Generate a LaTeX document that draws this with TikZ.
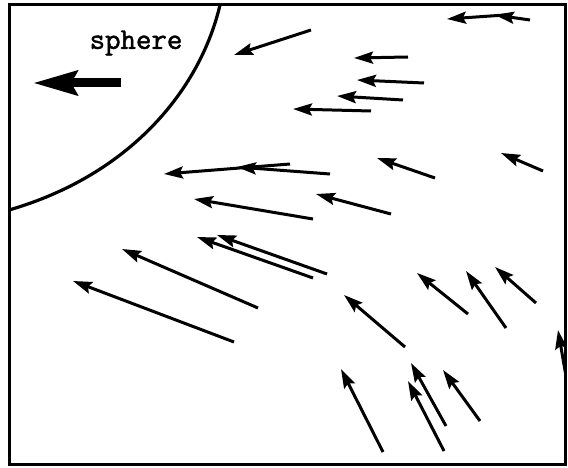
\documentclass[tikz,border=0pt]{standalone}
\usepackage{fontspec}
\newfontfamily\typew[FakeBold=1.6]{Latin Modern Mono}
\usetikzlibrary{arrows.meta}
\tikzset{
  vec/.style={line width=3pt,-{Stealth[length=19pt,width=12pt,inset=3pt]}},
  bigvec/.style={line width=9pt,-{Stealth[length=44pt,width=24pt,inset=6pt]}},
  frame/.style={line width=3pt},
  surface/.style={line width=3.2pt}
}
\begin{document}
\begin{tikzpicture}[x=1pt,y=-1pt]
\useasboundingbox (0,0) rectangle (568,468);
\fill[white] (0,0) rectangle (568,468);
% frame
\draw[frame] (9,5) rectangle (565,464);
% sphere surface
\draw[surface] (220,5) .. controls (200,90) and (130,175) .. (9,210);
\node[font=\typew\fontsize{30}{32}\selectfont] (label) at (136,43) {sphere};
% big arrow
\draw[bigvec] (121,83) -- (33,83);
% vector field
\draw[vec] (311,30) -- (234,55);
\draw[vec] (408,57) -- (354,58);
\draw[vec] (424,83) -- (357,80);
\draw[vec] (403,100) -- (337,96);
\draw[vec] (371,111) -- (293,109);
\draw[vec] (505,15) -- (447,19);
\draw[vec] (530,20) -- (495,15);
\draw[vec] (290,164) -- (164,174);
\draw[vec] (330,174) -- (237,167);
\draw[vec] (313,219) -- (194,199);
\draw[vec] (391,214) -- (316,194);
\draw[vec] (313,278) -- (197,237);
\draw[vec] (327,274) -- (217,235);
\draw[vec] (258,308) -- (122,249);
\draw[vec] (234,342) -- (73,281);
\draw[vec] (435,178) -- (377,158);
\draw[vec] (543,171) -- (501,153);
\draw[vec] (468,314) -- (417,273);
\draw[vec] (506,328) -- (466,271);
\draw[vec] (536,303) -- (495,267);
\draw[vec] (405,347) -- (344,295);
\draw[vec] (383,452) -- (341,369);
\draw[vec] (446,426) -- (411,363);
\draw[vec] (444,451) -- (408,381);
\draw[vec] (480,421) -- (443,370);
\begin{scope}
\clip (0,0) rectangle (565,468);
\draw[vec] (567,382) -- (558,330);
\end{scope}
\end{tikzpicture}
\end{document}
